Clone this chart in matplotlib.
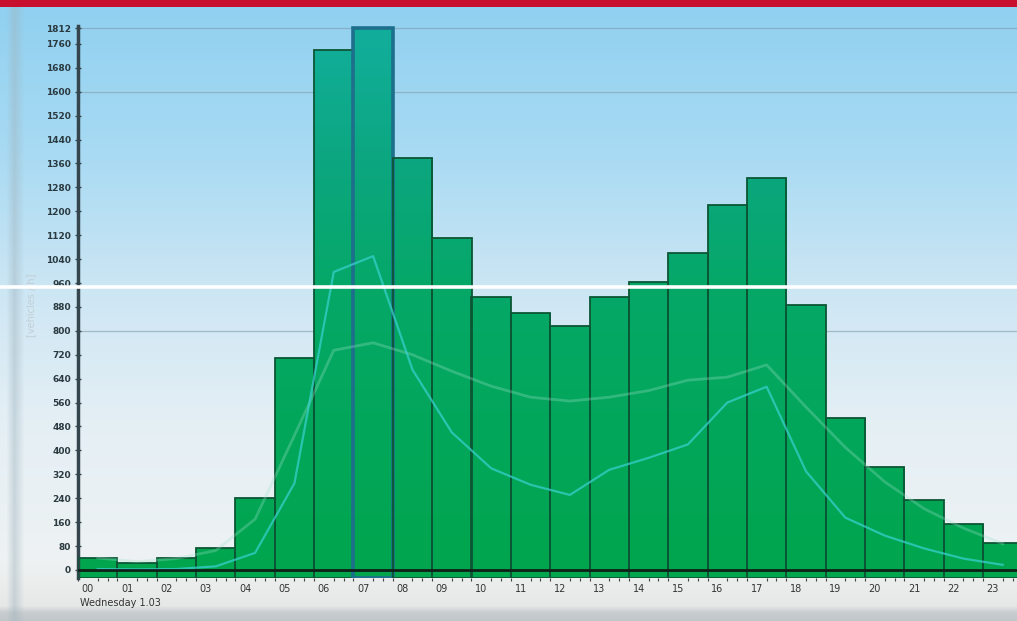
import numpy as np
import matplotlib
matplotlib.use('Agg')
import matplotlib.pyplot as plt
from matplotlib.colors import LinearSegmentedColormap, to_rgb
from matplotlib.patches import Rectangle
from matplotlib.lines import Line2D

# Dados (veículos por hora)
horas = ['%02d' % h for h in range(24)]
volumes = [40, 24, 40, 74, 241, 710, 1741, 1812, 1379, 1111, 914, 860,
           815, 914, 965, 1062, 1220, 1310, 886, 507, 346, 233, 155, 90]
perfil_medio = [40, 28, 38, 65, 170, 450, 735, 760, 720, 665, 615, 578,
                565, 578, 600, 635, 645, 686, 545, 410, 295, 205, 140, 88]
perfil_pico = [3, 2, 3, 12, 57, 290, 997, 1050, 670, 460, 340, 285,
               251, 335, 375, 420, 560, 613, 330, 175, 115, 72, 38, 17]
yticks = list(range(0, 1761, 80)) + [1812]
linhas_ref = [800, 1600, 1812]
hora_destaque = 7
dia = 'Wednesday 1.03'

W, H = 1017, 621
fig = plt.figure(figsize=(W / 100, H / 100), dpi=100)

# fundo em degradê (céu)
paradas_y = [0, 150, 300, 420, 560, 580, 605, 612, 621]
paradas_c = ['#8fd0f0', '#a8daf3', '#cfe7f4', '#e4eff5', '#eef2f3',
             '#eceeee', '#e6e8e8', '#c8cdd0', '#c0c6ca']
yy = np.arange(H)
cores = np.array([to_rgb(c) for c in paradas_c])
col = np.stack([np.interp(yy, paradas_y, cores[:, k]) for k in range(3)], axis=1)
fundo = np.repeat(col[:, None, :], W, axis=1)
faixa = np.zeros(W)
faixa[6:24] = np.interp(np.arange(6, 24), [6, 14, 24], [0.0, 0.45, 0.0])
cinza = np.array(to_rgb('#9fb3bd'))
fundo = fundo * (1 - faixa[None, :, None]) + cinza * faixa[None, :, None]
ax_bg = fig.add_axes([0, 0, 1, 1], zorder=-10)
ax_bg.imshow(fundo, aspect='auto', extent=[0, 1, 0, 1])
ax_bg.axis('off')

# eixo principal
x_esq = 78 / W
ax = fig.add_axes([x_esq, (H - 578) / H, 1 - x_esq, (578 - 26) / H])
ax.patch.set_alpha(0)
ymin, ymax = -27, 1820
largura = 39.35
xmax = (W - 78) / largura

for v in linhas_ref:
    ax.axhline(v, color='#7f9aaa', lw=0.9, alpha=0.6, zorder=1)

cmap = LinearSegmentedColormap.from_list(
    'barra', [(0, '#00a54e'), (0.5, '#05a866'), (0.72, '#0ba67c'), (1, '#12ae9c')])
grad = np.linspace(0, 1, 256).reshape(-1, 1)

for i, v in enumerate(volumes):
    destaque = i == hora_destaque
    ret = Rectangle((i, ymin), 1, v - ymin, facecolor='none',
                    edgecolor='#1d6f8c' if destaque else '#0c5634',
                    lw=2.6 if destaque else 1.3, zorder=4)
    ax.add_patch(ret)
    im = ax.imshow(grad, extent=[i, i + 1, 0, 1812], origin='lower', cmap=cmap,
                   aspect='auto', zorder=2)
    im.set_clip_path(ret)
    fundo_barra = Rectangle((i, ymin), 1, -ymin, facecolor='#00a54e', lw=0, zorder=2)
    ax.add_patch(fundo_barra)

xc = np.arange(24) + 0.5
ax.plot(xc, perfil_medio, color='#9fe3cc', lw=2.0, alpha=0.3, zorder=5)
ax.plot(xc, perfil_pico, color='#38cfcc', lw=1.6, alpha=0.75, zorder=6)

ax.axhline(0, color='#102018', lw=2, zorder=7)

ax.set_xlim(0, xmax)
ax.set_ylim(ymin, ymax)

ax.set_yticks(yticks)
ax.set_yticklabels([str(t) for t in yticks], fontsize=6.5, fontweight='bold',
                   color='#2a3a40')
ax.tick_params(axis='y', direction='inout', length=4, width=1, color='#34454d', pad=3)

ax.set_xticks(np.arange(24) + 0.25)
ax.set_xticklabels(horas, fontsize=7, color='#333333')
ax.set_xticks(np.arange(0, 24, 0.25), minor=True)
ax.tick_params(axis='x', which='major', length=0, pad=4)
ax.tick_params(axis='x', which='minor', length=2.5, width=0.8, color='#444444')

for s in ['top', 'right', 'bottom']:
    ax.spines[s].set_visible(False)
ax.spines['left'].set_color('#34454d')
ax.spines['left'].set_linewidth(2.5)

fig.text(80 / W, 1 - 603 / H, dia, fontsize=7, color='#333333', va='center')
fig.text(31 / W, 1 - 305 / H, '[vehicles / h]', fontsize=7, color='#c2ced4',
         rotation=90, ha='center', va='center')

# faixa vermelha no topo e risco branco
fig.patches.append(Rectangle((0, 1 - 7 / H), 1, 7 / H, transform=fig.transFigure,
                             facecolor='#c8102e', lw=0, zorder=20))
fig.add_artist(Line2D([0, 1], [1 - 287 / H] * 2, transform=fig.transFigure,
                      color='white', lw=2.6, zorder=20))

fig.savefig('out.png', dpi=100)
